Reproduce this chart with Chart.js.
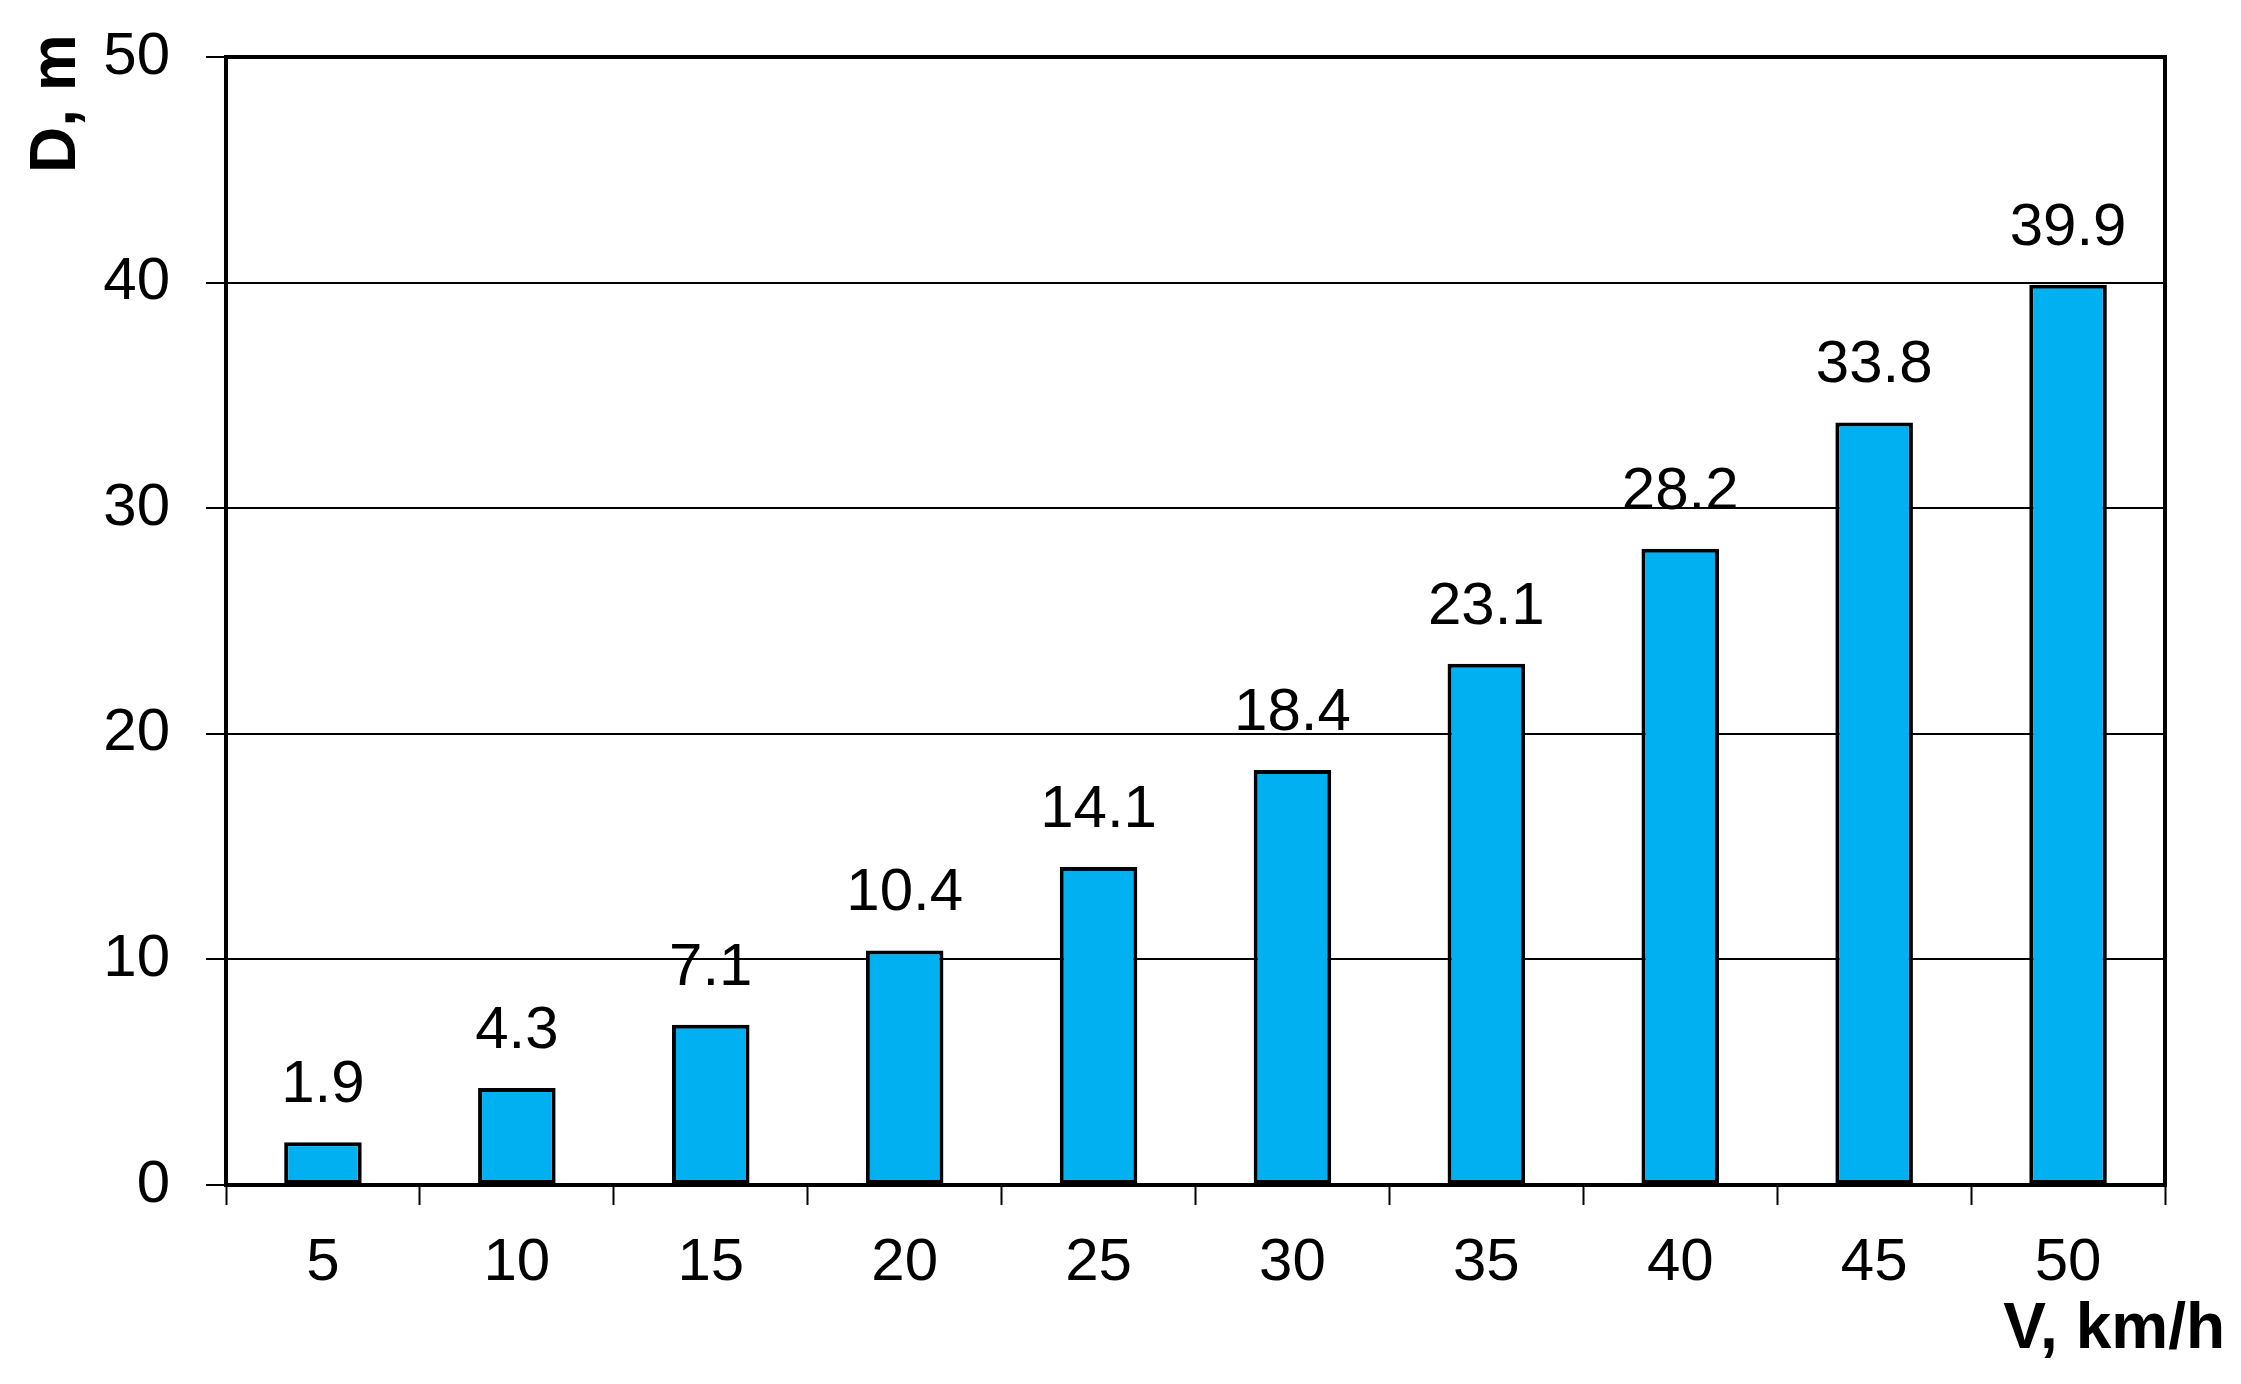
<!DOCTYPE html>
<html>
<head>
<meta charset="utf-8">
<script src="https://cdn.jsdelivr.net/npm/chart.js@4.4.1/dist/chart.umd.min.js"></script>
<style>
  html, body { margin: 0; padding: 0; background: #fff; }
  #wrap { width: 2241px; height: 1384px; position: relative; }
</style>
</head>
<body>
<div id="wrap"><canvas id="brake-chart"></canvas></div>
<script>
var speeds = ["5", "10", "15", "20", "25", "30", "35", "40", "45", "50"];
var distances = [1.9, 4.3, 7.1, 10.4, 14.1, 18.4, 23.1, 28.2, 33.8, 39.9];
var yTicks = [0, 10, 20, 30, 40, 50];
var xTitle = "V, km/h";
var yTitle = "D, m";

var fontName = "'Liberation Sans', Arial, sans-serif";

// frame round the plot area, value labels and axis titles
var extras = {
    id: 'extras',
    beforeDatasetsDraw: function (chart) {
        var a = chart.chartArea, ctx = chart.ctx;
        ctx.save();
        ctx.strokeStyle = '#000';
        ctx.lineWidth = 4;
        ctx.strokeRect(a.left, a.top, a.right - a.left, a.bottom - a.top);
        ctx.restore();
    },
    afterDatasetsDraw: function (chart) {
        var ctx = chart.ctx;
        var meta = chart.getDatasetMeta(0);
        ctx.save();
        ctx.fillStyle = '#000';
        ctx.font = '60px ' + fontName;
        ctx.textAlign = 'center';
        ctx.textBaseline = 'alphabetic';
        meta.data.forEach(function (bar, i) {
            ctx.fillText(distances[i].toFixed(1), bar.x, bar.y - 40);
        });
        // redraw bottom axis over bar borders
        var a = chart.chartArea;
        ctx.strokeStyle = '#000';
        ctx.lineWidth = 4;
        ctx.beginPath();
        ctx.moveTo(a.left - 2, a.bottom);
        ctx.lineTo(a.right + 2, a.bottom);
        ctx.stroke();

        ctx.font = 'bold 64px ' + fontName;
        ctx.textAlign = 'right';
        ctx.fillText(xTitle, 2225, 1348);

        ctx.translate(75, 173);
        ctx.rotate(-Math.PI / 2);
        ctx.textAlign = 'left';
        ctx.fillText(yTitle, 0, 0);
        ctx.restore();
    }
};

var ctx = document.getElementById("brake-chart").getContext("2d");
var chart = new Chart(ctx, {
    type: 'bar',
    data: {
        labels: speeds,
        datasets: [{
            data: distances,
            backgroundColor: '#00B0F0',
            borderColor: '#000',
            borderWidth: 4,
            borderSkipped: false,
            barPercentage: 0.4,
            categoryPercentage: 1.0
        }]
    },
    options: {
        responsive: true,
        maintainAspectRatio: false,
        animation: false,
        layout: { padding: { left: 0, top: 57, right: 76, bottom: 0 } },
        plugins: {
            legend: { display: false },
            tooltip: { enabled: false }
        },
        scales: {
            x: {
                offset: true,
                border: { display: false },
                grid: {
                    offset: true,
                    drawOnChartArea: false,
                    drawTicks: true,
                    tickLength: 20,
                    tickWidth: 2,
                    tickColor: '#000'
                },
                ticks: {
                    color: '#000',
                    padding: 22,
                    maxRotation: 0,
                    font: { family: fontName, size: 60 }
                },
                afterFit: function (scale) {
                    scale.height = 1384 - 1185;
                    scale.paddingLeft = 0;
                    scale.paddingRight = 0;
                }
            },
            y: {
                min: 0,
                max: 50,
                border: { display: false },
                grid: {
                    color: '#000',
                    lineWidth: 2,
                    drawTicks: true,
                    tickLength: 20,
                    tickWidth: 2,
                    tickColor: '#000'
                },
                ticks: {
                    color: '#000',
                    padding: 36,
                    stepSize: 10,
                    font: { family: fontName, size: 60 },
                    callback: function (v) { return yTicks.indexOf(v) >= 0 ? String(v) : ''; }
                },
                afterFit: function (scale) {
                    scale.width = 226;
                    scale.paddingTop = 0;
                    scale.paddingBottom = 0;
                }
            }
        }
    },
    plugins: [extras]
});
</script>
</body>
</html>
